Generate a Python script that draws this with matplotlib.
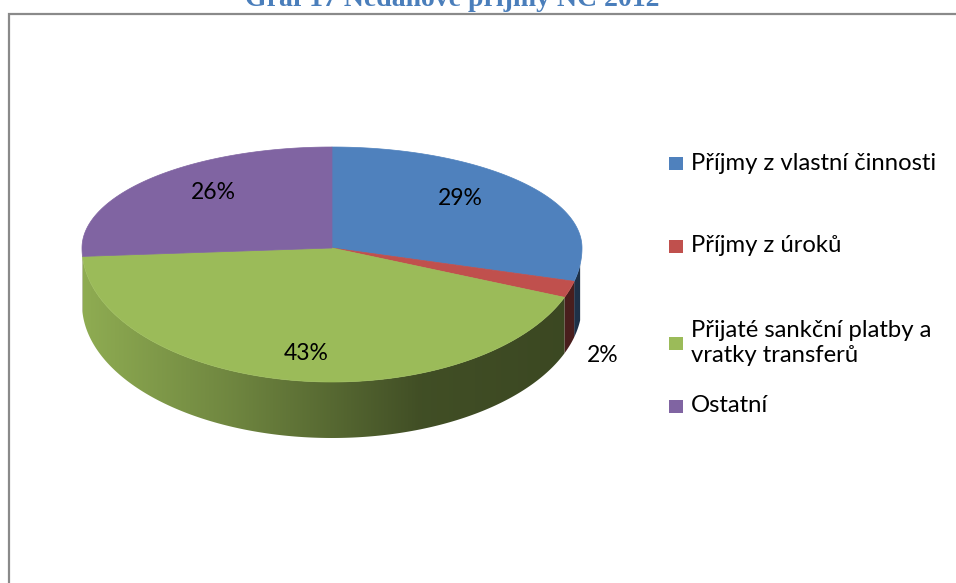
import numpy as np
import matplotlib.pyplot as plt
from matplotlib.patches import Polygon, Rectangle
from matplotlib.colors import to_rgb

# data
categories = ['Příjmy z vlastní činnosti', 'Příjmy z úroků',
              'Přijaté sankční platby a\nvratky transferů', 'Ostatní']
values = [29, 2, 43, 26]
colors = ['#4F81BD', '#C0504D', '#9BBB59', '#8064A2']
title = 'Graf 17 Nedaňové příjmy NC 2012'

# pie geometry (pixels, y down)
cx, cy = 332, 248
rx = 250
ry_back, ry_front = 101, 134
depth = 56
side_from, side_to = 97, 267  # visible part of the wall


def pt(theta_deg):
    t = np.radians(theta_deg)
    ry = ry_back if np.cos(t) > 0 else ry_front
    return cx + rx * np.sin(t), cy - ry * np.cos(t)


def shade(x):
    return np.interp(x, [83, 230, 420, 582], [0.92, 0.72, 0.42, 0.38])


fig = plt.figure(figsize=(9.56, 5.83), dpi=100)
ax = fig.add_axes([0, 0, 1, 1])
ax.set_xlim(0, 956)
ax.set_ylim(583, 0)
ax.axis('off')

# chart frame (left and top edges only are in view)
ax.plot([9.5, 9.5, 990], [600, 13.5, 13.5], color='#8a8a8a', lw=1.6,
        solid_joinstyle='miter')

total = sum(values)
bounds = np.concatenate([[0], np.cumsum(values) / total * 360])

# side walls (front half only), shaded left to right
xs = np.linspace(cx - rx, cx + rx, 500)
for i, c in enumerate(colors):
    a0, a1 = max(bounds[i], side_from), min(bounds[i + 1], side_to)
    if a1 <= a0:
        continue
    ts = np.linspace(a0, a1, 200)
    top = [pt(t) for t in ts]
    bot = [(x, y + depth) for x, y in top[::-1]]
    wall = Polygon(top + bot, closed=True, facecolor='none', edgecolor='none')
    ax.add_patch(wall)
    grad = np.array(to_rgb(c))[None, None, :] * shade(xs)[None, :, None]
    im = ax.imshow(grad, extent=(cx - rx, cx + rx, cy + ry_front + depth + 2, cy - 5),
                   aspect='auto', interpolation='bilinear', zorder=1)
    im.set_clip_path(wall)

# top faces
for i, c in enumerate(colors):
    arc = [pt(t) for t in np.linspace(bounds[i], bounds[i + 1], 200)]
    ax.add_patch(Polygon([(cx, cy)] + arc, closed=True, facecolor=c,
                         edgecolor=c, lw=0.5, zorder=2))

ax.set_xlim(0, 956)
ax.set_ylim(583, 0)

# percentage labels
for i, v in enumerate(values):
    mid = np.radians((bounds[i] + bounds[i + 1]) / 2)
    s, co = np.sin(mid), np.cos(mid)
    ry = ry_back if co > 0 else ry_front
    if v / total < 0.05:
        x = cx + 1.14 * rx * s
        y = cy - 1.14 * ry * co + depth + 4
    else:
        x = cx + 0.65 * rx * s
        y = cy - 0.8 * ry * co
    ax.text(x, y, f'{v / total:.0%}', ha='center', va='center',
            fontsize=16.5, family='Lato', color='black', zorder=3)

# legend
leg_y = [163, 246, 343, 406]
for c, lab, y in zip(colors, categories, leg_y):
    ax.add_patch(Rectangle((669, y - 6.5), 14, 13, facecolor=c, edgecolor='none'))
    ax.text(691, y, lab, ha='left', va='center', fontsize=17.2,
            family='Lato', color='black', linespacing=1.25)

# title (cut off at top edge, as in the source)
ax.text(452, 6, title, ha='center', va='baseline', fontsize=20,
        family='Liberation Serif', fontweight='bold', color='#4A7EBB')

fig.savefig('out.png', dpi=100)
